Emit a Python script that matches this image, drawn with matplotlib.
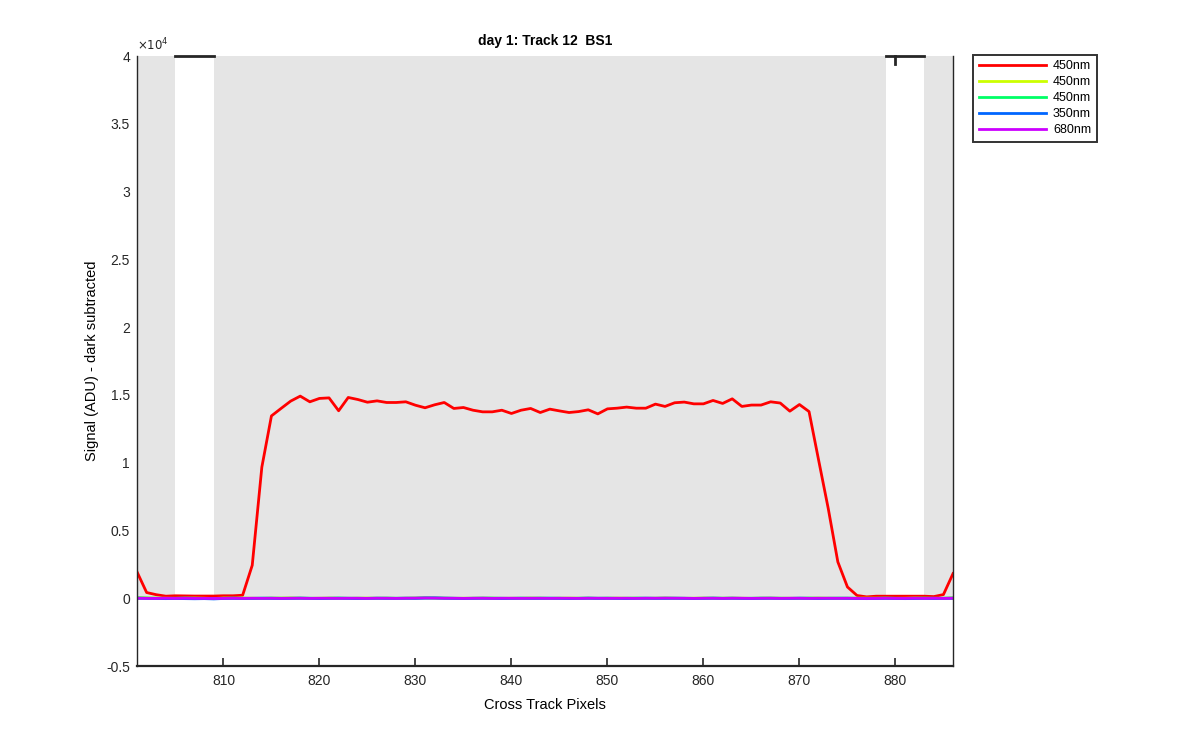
import numpy as np
import matplotlib
matplotlib.use("Agg")
import matplotlib.pyplot as plt
from matplotlib.ticker import FuncFormatter

plt.rcParams['font.family'] = ['Liberation Sans', 'DejaVu Sans']

# cross track pixels
pixels = list(range(801, 887))

# 450nm signal (ADU, dark subtracted)
red_450 = [1940, 420, 260, 150, 180, 170, 160, 160, 160, 180,
           180, 220, 2430, 9670, 13450, 14000, 14540, 14910, 14490, 14740,
           14780, 13830, 14810, 14660, 14460, 14560, 14440, 14440, 14490, 14240,
           14050, 14270, 14440, 14000, 14070, 13870, 13750, 13750, 13870, 13630,
           13870, 14000, 13700, 13950, 13820, 13700, 13770, 13900, 13600, 13970,
           14020, 14100, 14020, 14020, 14320, 14150, 14420, 14470, 14340, 14340,
           14590, 14370, 14710, 14150, 14250, 14250, 14490, 14400, 13800, 14290,
           13770, 10180, 6620, 2680, 830, 200, 100, 150, 150, 150,
           150, 150, 150, 120, 270, 1820]

# other channels stay at the dark level
yellow_450 = [30, 20, 10, 0, -10, 0, 10, 0, -20, 10, 0, 10, 0, -10, 0, 10, 20, 0, -10, 0,
              10, 0, -10, 0, 10, 0, 0, -10, 0, 10, 20, 10, 0, -10, 0, 0, 10, 0, -10, 0,
              0, 10, 0, -10, 0, 10, 0, 0, -10, 0, 10, 0, 0, -10, 0, 10, 0, -10, 0, 10,
              0, 0, 10, 0, -10, 0, 10, 0, 0, -10, 0, 10, 0, 0, -10, 0, 10, 0, 0, -10,
              0, 10, 0, -10, 0, 20]
green_450 = [20, 10, 0, -10, 0, 10, 0, -10, -30, 0, 10, 0, -10, 0, 10, 0, 0, 10, 0, -10,
             0, 10, 0, 0, -10, 0, 10, 0, 0, 10, 30, 20, 10, 0, -10, 0, 0, 10, 0, -10,
             0, 0, 10, 0, 0, -10, 0, 10, 0, 0, -10, 0, 10, 0, 0, 10, 0, 0, -10, 0,
             10, 0, 0, -10, 0, 10, 0, 0, -10, 0, 10, 0, 0, 0, 10, 0, -10, 0, 10, 0,
             -10, 0, 10, 0, 0, 10]
blue_350 = [0, -10, -20, -30, -20, -30, -40, -30, -50, -20, -10, -20, -10, 0, -10, -20, -10, 0, -10, -20,
            -10, 0, -10, -20, -10, 0, -10, -10, 0, -10, 10, 20, 0, -10, -20, -10, 0, -10, -20, -10,
            0, -10, -10, 0, -10, -20, -10, 0, -10, 0, -10, -20, -10, 0, -10, -10, 0, -10, -20, -10,
            0, -10, 0, -10, -20, -10, 0, -10, -10, 0, -10, -20, -10, 0, -10, -20, -30, -20, -10, -20,
            -30, -20, -10, -20, -10, 0]
purple_680 = [0, -10, -10, 0, -10, 0, -10, -10, -20, -10, 0, -10, 0, -10, 0, -10, 0, 0, -10, 0,
              0, -10, 0, 0, -10, 0, 0, -10, 0, 10, 20, 10, 0, 0, -10, 0, 0, -10, 0, 0,
              -10, 0, 0, -10, 0, 0, -10, 0, 0, -10, 0, 0, -10, 0, 0, 10, 0, 0, -10, 0,
              0, -10, 0, 0, -10, 0, 0, -10, 0, 0, -10, 0, 0, -10, 0, -10, -20, -10, 0, -10,
              -10, 0, -10, 0, -10, 0]

series = [("450nm", red_450, (1.0, 0.0, 0.0)),
          ("450nm", yellow_450, (0.8, 1.0, 0.0)),
          ("450nm", green_450, (0.0, 1.0, 0.4)),
          ("350nm", blue_350, (0.0, 0.4, 1.0)),
          ("680nm", purple_680, (0.8, 0.0, 1.0))]

# shaded pixel ranges (gray) between white gaps
shade_ranges = [(801, 805), (809, 879), (883, 886)]
gap_ranges = [(805, 809), (879, 883)]

axis_col = (0.15, 0.15, 0.15)
ymax = 40000

fig = plt.figure(figsize=(12, 7.5), dpi=100)
ax = fig.add_axes([0.1142, 0.112, 0.6800, 0.8133])

for x0, x1 in shade_ranges:
    ax.fill_between([x0, x1], 0, ymax, color="#e5e5e5", lw=0, zorder=1)

for label, vals, col in series:
    ax.plot(pixels, vals, color=col, lw=2, label=label, zorder=3)

ax.set_xlim(801, 886)
ax.set_ylim(-5000, ymax)
ax.set_xticks(range(810, 881, 10))
ax.set_yticks(np.arange(-5000, 40001, 5000))
ax.yaxis.set_major_formatter(FuncFormatter(lambda v, p: f"{v / 1e4:g}"))

ax.tick_params(direction="in", length=5.5, width=1.2, colors=axis_col, labelsize=10, pad=6)
# y ticks are hidden under the shading in the original
ax.tick_params(axis="y", length=0, pad=5)
for s in ["left", "right"]:
    ax.spines[s].set_color(axis_col)
    ax.spines[s].set_linewidth(1.0)
    ax.spines[s].set_zorder(4)
ax.spines["bottom"].set_color(axis_col)
ax.spines["bottom"].set_linewidth(1.6)
ax.spines["top"].set_visible(False)

# top box edge only shows in the unshaded gaps
for x0, x1 in gap_ranges:
    ax.plot([x0, x1], [ymax, ymax], color=axis_col, lw=2, clip_on=False, zorder=5)
ax.plot([880, 880], [ymax, ymax - 600], color=axis_col, lw=2, clip_on=False, zorder=5)

ax.text(0.0, 1.004, r"$\times10^4$", transform=ax.transAxes, fontsize=8.5,
        color=axis_col, ha="left", va="bottom")

ax.set_title("day 1: Track 12  BS1", fontsize=10, fontweight="bold", pad=8)
ax.set_xlabel("Cross Track Pixels", fontsize=10.5, labelpad=7)
ax.set_ylabel("Signal (ADU) - dark subtracted", fontsize=10.5, labelpad=5)

leg = ax.legend(loc="upper left", bbox_to_anchor=(1.0245, 1.002), fontsize=9,
                frameon=True, fancybox=False, edgecolor="black", handlelength=5.4,
                labelspacing=0.32, borderpad=0.45, handletextpad=0.55, borderaxespad=0)
leg.get_frame().set_linewidth(1.4)

fig.savefig("out.png", dpi=100)
